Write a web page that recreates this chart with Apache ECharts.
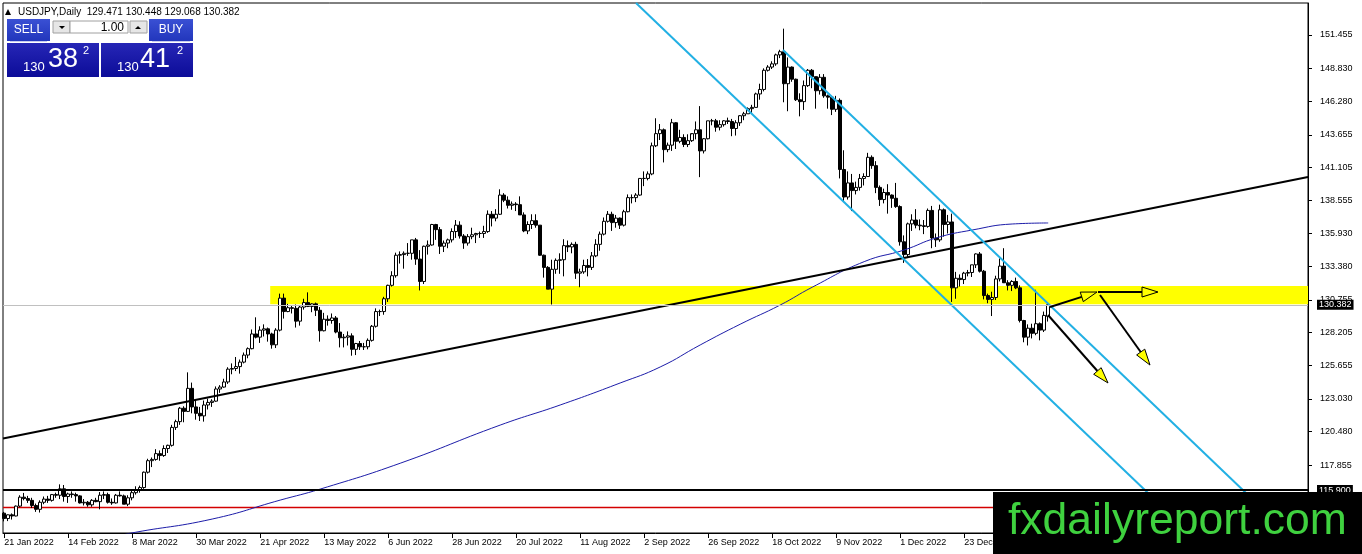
<!DOCTYPE html>
<html><head><meta charset="utf-8">
<script src="https://cdn.jsdelivr.net/npm/echarts@6/dist/echarts.min.js"></script>
<style>html,body{margin:0;padding:0;background:#fff}#c{width:1362px;height:554px}</style>
</head><body><div id="c"></div>
<script>
// ---- tick labels ----
const tickIdx = [0,16,32,48,64,80,96,112,128,144,160,176,192,208,224,240,256];
const tickLabels = ['21 Jan 2022','14 Feb 2022','8 Mar 2022','30 Mar 2022','21 Apr 2022','13 May 2022','6 Jun 2022','28 Jun 2022','20 Jul 2022','11 Aug 2022','2 Sep 2022','26 Sep 2022','18 Oct 2022','9 Nov 2022','1 Dec 2022','23 Dec 2022','16 Jan 2023'];
const yTicks = [151.455,148.830,146.280,143.655,141.105,138.555,135.930,133.380,130.755,128.205,125.655,123.030,120.480,117.855];

// ---- daily bars [open, high, low, close], first bar 21 Jan 2022 ----
const ohlc = [
[114.10,114.20,113.46,113.68],[113.68,114.00,113.48,113.97],[113.97,114.08,113.60,113.88],[113.88,114.70,113.85,114.65],
[114.65,115.50,114.55,115.35],[115.35,115.68,115.10,115.24],[115.24,115.45,114.90,115.10],[115.10,115.30,114.50,114.70],
[114.70,114.85,114.20,114.40],[114.40,115.10,114.15,114.95],[114.95,115.40,114.80,115.20],[115.20,115.45,114.90,115.10],
[115.10,115.60,115.00,115.55],[115.55,115.70,115.30,115.50],[115.50,116.35,115.20,116.00],[116.00,116.30,115.00,115.40],
[115.40,115.70,114.90,115.60],[115.60,115.80,115.30,115.55],[115.55,115.70,115.00,115.45],[115.45,115.50,114.85,114.90],
[114.90,115.20,114.70,114.95],[114.95,115.05,114.60,114.75],[114.75,115.20,114.60,115.10],[115.10,115.30,114.95,115.00],
[115.00,115.75,114.40,115.50],[115.50,115.80,115.20,115.55],[115.55,115.70,114.85,114.95],[114.95,115.25,114.75,114.90],
[114.90,115.60,114.85,115.50],[115.50,115.80,115.40,115.45],[115.45,115.55,114.80,114.80],[114.80,115.50,114.65,115.30],
[115.30,115.85,115.10,115.70],[115.70,116.20,115.55,115.90],[115.90,116.25,115.70,116.10],[116.10,117.35,116.00,117.30],
[117.30,118.35,117.20,118.20],[118.20,118.45,117.70,118.30],[118.30,119.10,118.20,118.75],[118.75,119.00,118.20,118.60],
[118.60,119.40,118.50,119.15],[119.15,119.45,118.80,119.40],[119.40,121.00,119.30,120.80],[120.80,121.40,120.60,121.25],
[121.25,122.40,121.00,122.30],[122.30,122.45,121.20,122.05],[122.05,125.10,122.00,123.85],[123.85,124.30,121.90,122.40],
[122.40,123.00,121.40,121.90],[121.90,122.40,121.30,121.70],[121.70,122.90,121.25,122.55],[122.55,123.05,122.20,122.75],
[122.75,123.00,122.40,122.85],[122.85,124.00,122.80,123.80],[123.80,124.10,123.50,123.95],[123.95,124.60,123.90,124.35],
[124.35,125.50,124.20,125.35],[125.35,125.80,124.95,125.40],[125.40,126.30,125.20,125.55],[125.55,126.10,125.00,125.90],
[125.90,126.65,125.80,126.45],[126.45,127.05,126.20,126.95],[126.95,128.45,126.90,128.10],[128.10,129.40,127.75,127.85],
[127.85,128.70,127.40,128.40],[128.40,128.85,127.90,128.50],[128.50,128.60,127.50,128.10],[128.10,128.20,126.95,127.25],
[127.25,128.55,127.00,128.40],[128.40,131.25,128.30,130.90],[130.90,131.25,129.30,129.85],[129.85,130.45,129.80,130.15],
[130.15,130.30,129.70,130.10],[130.10,130.40,128.60,129.10],[129.10,130.35,128.75,130.20],[130.20,130.85,130.00,130.55],
[130.55,131.35,130.20,130.25],[130.25,130.50,129.80,130.45],[130.45,130.55,129.50,129.95],[129.95,130.20,127.50,128.35],
[128.35,129.75,128.30,129.25],[129.25,129.55,128.75,129.15],[129.15,129.70,128.90,129.35],[129.35,129.50,128.15,128.25],
[128.25,128.95,127.05,127.80],[127.80,128.10,127.05,127.85],[127.85,128.30,127.20,127.95],[127.95,128.15,126.40,126.90],
[126.90,127.40,126.45,127.35],[127.35,127.55,126.85,127.10],[127.10,127.40,126.85,127.10],[127.10,127.75,126.90,127.60],
[127.60,128.80,127.50,128.70],[128.70,130.10,128.60,129.85],[129.85,130.00,129.50,129.85],[129.85,131.00,129.60,130.85],
[130.85,131.95,130.60,131.90],[131.90,133.00,131.80,132.65],[132.65,134.45,132.50,134.25],[134.25,134.55,133.60,134.30],
[134.30,134.55,133.20,134.40],[134.40,135.20,134.20,134.40],[134.40,135.45,133.90,135.45],[135.45,135.60,133.50,133.95],
[133.95,134.65,131.50,132.20],[132.20,135.00,132.00,134.95],[134.95,135.40,134.30,135.05],[135.05,136.70,135.00,136.65],
[136.65,136.70,135.45,136.25],[136.25,136.45,134.35,134.95],[134.95,135.40,134.50,135.20],[135.20,135.55,134.80,135.45],
[135.45,136.35,135.25,136.10],[136.10,137.00,135.60,136.60],[136.60,136.90,135.55,135.75],[135.75,135.90,134.75,135.20],
[135.20,135.90,135.00,135.70],[135.70,136.40,135.50,135.85],[135.85,136.00,135.20,135.95],[135.95,136.10,135.60,135.95],
[135.95,136.55,135.60,136.10],[136.10,137.75,136.00,137.45],[137.45,137.70,136.50,137.15],[137.15,137.85,136.90,137.45],
[137.45,139.40,137.40,138.95],[138.95,139.10,138.40,138.55],[138.55,138.85,137.90,138.15],[138.15,138.45,137.80,138.25],
[138.25,138.40,137.70,138.20],[138.20,138.85,137.40,137.40],[137.40,137.60,136.05,136.15],[136.15,136.90,135.90,136.65],
[136.65,137.45,136.30,136.95],[136.95,137.45,136.40,136.60],[136.60,136.60,134.20,134.25],[134.25,134.30,132.50,133.30],
[133.30,133.40,131.60,131.60],[131.60,133.90,130.40,133.15],[133.15,134.00,132.80,133.85],[133.85,134.40,132.80,133.90],
[133.90,135.50,132.60,135.00],[135.00,135.40,134.50,134.90],[134.90,135.25,134.40,135.10],[135.10,135.30,132.40,132.85],
[132.85,133.20,131.75,132.95],[132.95,133.90,132.80,133.45],[133.45,133.95,132.60,133.30],[133.30,134.50,133.10,134.20],
[134.20,135.50,134.10,135.10],[135.10,136.10,134.60,135.90],[135.90,137.20,135.80,136.90],[136.90,137.70,136.80,137.45],
[137.45,137.65,136.15,136.80],[136.80,137.40,136.40,137.15],[137.15,137.20,136.30,136.60],[136.60,137.80,136.50,137.65],
[137.65,139.00,137.60,138.75],[138.75,139.00,138.30,138.75],[138.75,139.10,138.40,138.95],[138.95,140.25,138.90,140.25],
[140.25,140.80,139.65,140.25],[140.25,140.80,140.10,140.60],[140.60,143.05,140.50,142.80],[142.80,144.95,142.70,143.75],
[143.75,144.50,143.25,144.05],[144.05,144.15,141.50,142.50],[142.50,143.05,142.30,142.85],[142.85,144.90,142.40,144.60],
[144.60,144.65,142.55,143.15],[143.15,144.05,143.00,143.45],[143.45,143.70,142.70,142.90],[142.90,143.70,142.70,143.20],
[143.20,143.70,143.10,143.75],[143.75,144.70,143.30,144.05],[144.05,145.90,140.35,142.40],[142.40,143.40,142.20,143.35],
[143.35,144.75,143.30,144.75],[144.75,144.90,144.40,144.75],[144.75,144.90,143.90,144.25],[144.25,144.80,144.00,144.45],
[144.45,144.80,144.30,144.75],[144.75,145.00,144.50,144.70],[144.70,144.90,143.55,144.15],[144.15,144.80,143.60,144.60],
[144.60,145.20,144.35,145.15],[145.15,145.45,144.80,145.30],[145.30,145.80,145.30,145.70],[145.70,146.00,145.35,145.80],
[145.80,146.95,145.80,146.85],[146.85,147.65,146.40,147.20],[147.20,148.85,147.05,148.70],[148.70,149.10,148.60,148.95],
[148.95,149.40,148.80,149.20],[149.20,150.00,149.05,149.90],[149.90,150.30,149.65,150.15],[150.15,151.95,146.20,147.65],
[147.65,149.70,145.50,148.95],[148.95,149.00,147.80,148.00],[148.00,148.05,146.30,146.40],[146.40,146.90,145.10,146.25],
[146.25,147.90,145.60,147.50],[147.50,148.80,147.40,148.70],[148.70,148.80,147.30,148.20],[148.20,148.20,145.70,147.10],
[147.10,148.40,146.80,148.15],[148.15,148.40,146.55,146.70],[146.70,146.80,145.70,146.60],[146.60,146.70,145.20,145.65],
[145.65,146.70,145.45,146.35],[146.35,146.50,140.25,140.95],[140.95,142.45,138.45,138.80],[138.80,140.80,138.60,139.90],
[139.90,140.60,137.70,139.30],[139.30,140.00,139.00,139.55],[139.55,140.60,139.30,140.25],[140.25,140.65,139.70,140.40],
[140.40,142.25,140.40,141.90],[141.90,142.05,141.00,141.25],[141.25,141.60,139.10,139.55],[139.55,139.70,138.10,138.60],
[138.60,139.45,138.30,139.15],[139.15,139.80,137.50,138.95],[138.95,139.00,137.95,138.70],[138.70,139.90,137.95,138.05],
[138.05,138.15,135.00,135.30],[135.30,135.80,133.65,134.30],[134.30,136.80,134.10,136.70],[136.70,137.45,136.15,137.00],
[137.00,137.85,136.35,136.60],[136.60,137.05,136.20,136.55],[136.55,137.00,135.90,136.50],[136.50,137.90,136.40,137.75],
[137.75,138.10,134.80,135.60],[135.60,135.95,134.90,135.45],[135.45,138.20,135.30,137.80],[137.80,137.90,135.70,136.65],
[136.65,137.40,135.95,136.85],[136.85,137.50,130.60,131.70],[131.70,132.95,130.85,132.45],[132.45,132.75,131.80,132.35],
[132.35,132.95,132.00,132.85],[132.85,133.10,132.60,132.90],[132.90,133.50,132.55,133.50],[133.50,134.40,133.25,134.35],
[134.35,134.50,132.90,133.00],[133.00,133.10,130.80,131.10],[131.10,131.25,130.50,130.80],[130.80,131.40,129.50,130.95],
[130.95,132.65,130.75,132.40],[132.40,134.00,132.20,133.40],[133.40,134.80,132.75,132.10],[132.10,132.30,131.50,131.90],
[131.90,132.30,131.45,132.20],[132.20,132.50,131.60,131.70],[131.70,131.90,129.00,129.15],[129.15,129.20,127.45,127.85],
[127.85,128.85,127.20,128.55],[128.55,128.90,127.75,128.15],[128.15,131.55,128.00,128.90],[128.90,129.00,127.60,128.40],
[128.40,129.85,128.25,129.55],[129.471,130.448,129.068,130.382]
];

// ---- moving average line, read at sample bars ----
const maIdx = [28,31,52,69,79,99,124,139,154,164,174,184,194,202,215,225,233,242,252,261];
const maVal = [112.2,112.5,113.64,115.12,115.98,118.0,120.98,122.55,124.27,125.52,127.24,128.86,130.36,131.75,133.75,134.66,135.6,136.22,136.69,136.77];

// ---- drawn objects (bar index, price) ----
const trendLine = [[-0.3,119.93],[325.95,140.36]];
const channelA = [[157.95,153.955],[296.4,112.55]];
const channelB = [[194.7,150.28],[320.9,112.55]];
const arrows = [
  [261.45,130.205,273.2,131.377],
  [273.45,131.377,288.45,131.377],
  [260.95,129.58,275.95,124.27],
  [273.95,131.14,286.45,125.67]
];
const zoneLow = 130.42, zoneHigh = 131.85, zoneStart = 66.5;
const supportLevel = 115.900, redLevel = 114.54, lastPrice = 130.382;
const header = 'USDJPY,Daily  129.471 130.448 129.068 130.382';

const candleData = ohlc.map((r, i) => [i, r[0], r[3], r[2], r[1]]);
const maData = maIdx.map((x, k) => [x, maVal[k]]);
const redLine = [[-0.3, redLevel], [325.95, redLevel]];

const FONT = '"Liberation Sans", Arial, sans-serif';
const chart = echarts.init(document.getElementById('c'));
const btnGrad = new echarts.graphic.LinearGradient(0,0,0,1,[{offset:0,color:'#3a50d4'},{offset:1,color:'#2236bc'}]);
const boxGrad = () => new echarts.graphic.LinearGradient(0,0,0,1,[{offset:0,color:'#2626b6'},{offset:1,color:'#0c0c98'}]);

chart.setOption({
  animation: false,
  backgroundColor: '#fff',
  grid: {left: 3, top: 3, right: 54, bottom: 21, show: true, borderColor: '#000', borderWidth: 1},
  xAxis: {
    type: 'value', min: -0.3, max: 325.95,
    axisLine: {show: true, onZero: false, lineStyle: {color: '#000', width: 1}},
    axisTick: {show: true, customValues: tickIdx, length: 5, lineStyle: {color: '#000'}},
    axisLabel: {customValues: tickIdx, align: 'left', margin: 5, fontSize: 9, fontFamily: FONT, color: '#000',
      formatter: v => { const k = tickIdx.indexOf(Math.round(v)); return k >= 0 ? tickLabels[k] : ''; }},
    splitLine: {show: false}
  },
  yAxis: {
    type: 'value', position: 'right', min: 112.55, max: 153.955, scale: true,
    axisLine: {show: true, onZero: false, lineStyle: {color: '#000', width: 1}},
    axisTick: {show: true, customValues: yTicks, length: 4, lineStyle: {color: '#000'}},
    axisLabel: {customValues: yTicks, margin: 12, fontSize: 9, fontFamily: FONT, color: '#000',
      formatter: v => v.toFixed(3)},
    splitLine: {show: false}
  },
  series: [
    {type: 'line', z: 1, data: redLine, symbol: 'none', color: '#d40000', lineStyle: {color: '#d40000', width: 1.4}, silent: true},
    {
      type: 'candlestick', z: 2, barWidth: 3, data: candleData,
      encode: {x: 0, y: [1, 2, 3, 4]},
      itemStyle: {color: '#fff', color0: '#000', borderColor: '#000', borderColor0: '#000', borderWidth: 1},
      emphasis: {disabled: true},
      markArea: {
        silent: true,
        itemStyle: {color: '#ffff00', opacity: 1},
        data: [[{xAxis: zoneStart, yAxis: zoneLow}, {xAxis: 325.95, yAxis: zoneHigh}]]
      },
      markLine: {
        silent: true, symbol: ['none', 'none'], animation: false,
        data: [
          {yAxis: lastPrice, lineStyle: {color: '#c0c0c0', width: 1, type: 'solid'},
           label: {show: true, position: 'end', distance: 9, formatter: lastPrice.toFixed(3), color: '#fff', backgroundColor: '#000', padding: [1, 2, 0, 2], fontSize: 9, fontFamily: FONT}},
          {yAxis: supportLevel, lineStyle: {color: '#000', width: 2, type: 'solid'},
           label: {show: true, position: 'end', distance: 9, formatter: supportLevel.toFixed(3), color: '#fff', backgroundColor: '#000', padding: [1, 2, 0, 2], fontSize: 9, fontFamily: FONT}}
        ]
      }
    },
    {type: 'line', z: 3, data: maData, smooth: true, symbol: 'none', lineStyle: {color: '#1c1ca8', width: 1}, silent: true},
    {type: 'line', z: 4, data: trendLine, symbol: 'none', lineStyle: {color: '#000', width: 2}, silent: true},
    {type: 'line', z: 4, data: channelA, symbol: 'none', lineStyle: {color: '#22b0e4', width: 2}, silent: true},
    {type: 'line', z: 4, data: channelB, symbol: 'none', lineStyle: {color: '#22b0e4', width: 2}, silent: true},
    {
      type: 'custom', z: 5, data: arrows, silent: true, encode: {x: [0, 2], y: [1, 3]},
      renderItem: (params, api) => {
        const a = api.coord([api.value(0), api.value(1)]);
        const b = api.coord([api.value(2), api.value(3)]);
        const dx = b[0] - a[0], dy = b[1] - a[1];
        const len = Math.sqrt(dx * dx + dy * dy);
        const ux = dx / len, uy = dy / len;
        const hl = 16, hw = 5;
        const bx = b[0] - ux * hl, by = b[1] - uy * hl;
        return {type: 'group', children: [
          {type: 'line', shape: {x1: a[0], y1: a[1], x2: bx, y2: by}, style: {stroke: '#000', lineWidth: 2}},
          {type: 'polygon', shape: {points: [[b[0], b[1]], [bx - uy * hw, by + ux * hw], [bx + uy * hw, by - ux * hw]]},
           style: {fill: '#ffff00', stroke: '#000', lineWidth: 1}}
        ]};
      }
    }
  ],
  graphic: [
    {type: 'polygon', z: 100, shape: {points: [[5, 15], [11, 15], [8, 9]]}, style: {fill: '#000'}},
    {type: 'text', z: 100, x: 18, y: 12, style: {text: header, font: '10px ' + FONT, fill: '#000', verticalAlign: 'middle'}},
    // one-click trading panel
    {type: 'rect', z: 100, shape: {x: 7, y: 19, width: 43, height: 22}, style: {fill: btnGrad}},
    {type: 'rect', z: 100, shape: {x: 149, y: 19, width: 44, height: 22}, style: {fill: btnGrad}},
    {type: 'line', z: 101, shape: {x1: 10, y1: 41.5, x2: 47, y2: 41.5}, style: {stroke: '#c8ccf0', lineWidth: 1}},
    {type: 'line', z: 101, shape: {x1: 152, y1: 41.5, x2: 190, y2: 41.5}, style: {stroke: '#c8ccf0', lineWidth: 1}},
    {type: 'text', z: 101, x: 28.5, y: 30, style: {text: 'SELL', font: '12px ' + FONT, fill: '#fff', align: 'center', verticalAlign: 'middle'}},
    {type: 'text', z: 101, x: 171, y: 30, style: {text: 'BUY', font: '12px ' + FONT, fill: '#fff', align: 'center', verticalAlign: 'middle'}},
    {type: 'rect', z: 100, shape: {x: 53, y: 21, width: 17, height: 12}, style: {fill: '#e6e6e6', stroke: '#a0a0a0', lineWidth: 1}},
    {type: 'polygon', z: 101, shape: {points: [[59, 26], [65, 26], [62, 29]]}, style: {fill: '#000'}},
    {type: 'rect', z: 100, shape: {x: 70, y: 21, width: 58, height: 12}, style: {fill: '#fff', stroke: '#a0a0a0', lineWidth: 1}},
    {type: 'text', z: 101, x: 124, y: 27.5, style: {text: '1.00', font: '12px ' + FONT, fill: '#000', align: 'right', verticalAlign: 'middle'}},
    {type: 'rect', z: 100, shape: {x: 130, y: 21, width: 17, height: 12}, style: {fill: '#e6e6e6', stroke: '#a0a0a0', lineWidth: 1}},
    {type: 'polygon', z: 101, shape: {points: [[135, 29], [141, 29], [138, 26]]}, style: {fill: '#000'}},
    {type: 'rect', z: 100, shape: {x: 7, y: 43, width: 92, height: 34}, style: {fill: boxGrad()}},
    {type: 'rect', z: 100, shape: {x: 101, y: 43, width: 92, height: 34}, style: {fill: boxGrad()}},
    {type: 'text', z: 101, x: 23, y: 67, style: {text: '130', font: '13px ' + FONT, fill: '#fff', verticalAlign: 'middle'}},
    {type: 'text', z: 101, x: 48, y: 60, style: {text: '38', font: '27px ' + FONT, fill: '#fff', verticalAlign: 'middle'}},
    {type: 'text', z: 101, x: 83, y: 51, style: {text: '2', font: '11px ' + FONT, fill: '#fff', verticalAlign: 'middle'}},
    {type: 'text', z: 101, x: 117, y: 67, style: {text: '130', font: '13px ' + FONT, fill: '#fff', verticalAlign: 'middle'}},
    {type: 'text', z: 101, x: 140, y: 60, style: {text: '41', font: '27px ' + FONT, fill: '#fff', verticalAlign: 'middle'}},
    {type: 'text', z: 101, x: 177, y: 51, style: {text: '2', font: '11px ' + FONT, fill: '#fff', verticalAlign: 'middle'}},
    // watermark
    {type: 'rect', z: 200, shape: {x: 993, y: 492, width: 369, height: 62}, style: {fill: '#000'}},
    {type: 'text', z: 201, x: 1008, y: 522, style: {text: 'fxdailyreport.com', font: '44.5px ' + FONT, fill: '#3fd13f', verticalAlign: 'middle'}}
  ]
});
</script>
</body></html>
